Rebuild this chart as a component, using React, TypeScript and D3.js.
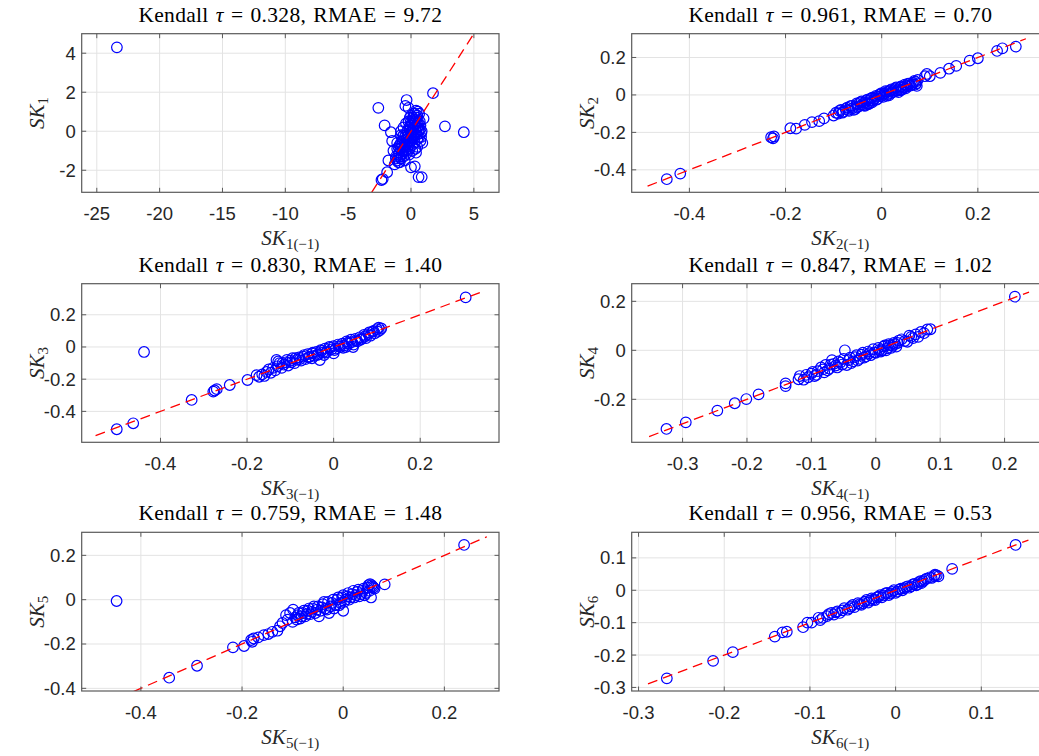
import React from "react";
import * as d3 from "d3";

const W = 1039;
const H = 756;

// ---------- data ----------
const titles = [
  ["0.328", "9.72"],
  ["0.961", "0.70"],
  ["0.830", "1.40"],
  ["0.847", "1.02"],
  ["0.759", "1.48"],
  ["0.956", "0.53"],
];

const xDomains = [
  [-26.2, 7],
  [-0.52, 0.348],
  [-0.582, 0.382],
  [-0.379, 0.269],
  [-0.517, 0.308],
  [-0.308, 0.179],
];
const yDomains = [
  [-3.13, 5],
  [-0.52, 0.327],
  [-0.592, 0.393],
  [-0.3755, 0.272],
  [-0.412, 0.304],
  [-0.311, 0.179],
];

const xTicks = [
  [-25, -20, -15, -10, -5, 0, 5],
  [-0.4, -0.2, 0, 0.2],
  [-0.4, -0.2, 0, 0.2],
  [-0.3, -0.2, -0.1, 0, 0.1, 0.2],
  [-0.4, -0.2, 0, 0.2],
  [-0.3, -0.2, -0.1, 0, 0.1],
];
const yTicks = [
  [-2, 0, 2, 4],
  [-0.4, -0.2, 0, 0.2],
  [-0.4, -0.2, 0, 0.2],
  [-0.2, 0, 0.2],
  [-0.4, -0.2, 0, 0.2],
  [-0.3, -0.2, -0.1, 0, 0.1],
];

// 45-degree reference line extents (x = y)
const refLines = [
  [-3.13, 5],
  [-0.487, 0.3],
  [-0.55, 0.35],
  [-0.352, 0.238],
  [-0.415, 0.284],
  [-0.289, 0.155],
];

const sk1 = [
  [-23.4, 4.3], [1.75, 1.95], [-2.6, 1.2], [2.7, 0.25], [4.2, -0.05], [-2.1, 0.3], [-1.9, -2.1],
  [-2.35, -2.5], [-2.25, -2.45], [0.85, -2.35], [0.6, -2.35], [-0.35, 1.6], [-0.45, 1.3], [0.4, 1.05],
  [1.0, 0.65], [0.3, -1.8], [0.0, -1.85], [-1.5, -0.5], [-1.6, -0.05], [-1.8, -1.5], [-1.3, -1.7],
  [0.75, -0.5], [0.8, -0.1], [-0.2, 1.2], [-1.0, -1.2], [-0.8, -1.4], [-0.6, -1.0], [-0.5, -0.6],
  [-0.3, -0.3], [-0.1, 0.1], [0.1, 0.4], [0.3, 0.6], [0.5, 0.8], [0.2, 0.2], [-0.2, -0.5], [-0.4, -0.2],
  [0.0, -0.1], [0.4, 0.0], [0.6, 0.3], [-0.7, -0.3], [-0.9, -0.7], [-1.1, -0.9], [-0.2, 0.5], [0.1, -0.4],
  [0.3, -0.2], [-0.6, 0.2], [0.7, 0.5], [0.5, -0.8], [-0.3, -1.1], [-1.2, -1.3], [0.2, 0.9], [-0.1, 0.7],
  [0.65, -0.3], [-0.8, 0.0], [-0.5, -1.5], [0.1, -1.0], [0.9, -0.6], [0.4, -1.1], [-1.4, -1.0], [-0.9, -1.6],
  [-1.2, -1.4], [-1.1, -1.5], [-1.0, -0.8], [-0.95, -1.1], [-0.85, -0.9], [-0.8, -0.6], [-0.75, -1.2],
  [-0.7, -0.8], [-0.65, -0.5], [-0.6, -1.3], [-0.55, -0.8], [-0.5, -0.3], [-0.45, -1.0], [-0.4, -0.7],
  [-0.35, -0.4], [-0.3, 0.0], [-0.25, -0.8], [-0.2, -0.2], [-0.15, 0.2], [-0.1, -0.6], [-0.05, 0.3],
  [0.0, 0.5], [0.05, -0.3], [0.1, 0.1], [0.15, 0.7], [0.2, -0.1], [0.25, 0.4], [0.3, 0.9], [0.35, 0.2],
  [0.4, 0.5], [0.45, 0.7], [0.5, 0.2], [0.55, 0.5], [0.6, 0.0], [0.7, 0.1], [0.75, 0.3], [0.8, -0.3],
  [0.85, 0.0], [0.5, -0.4], [0.3, -0.6], [0.1, -0.7], [-0.1, -0.9], [-0.3, -0.6], [-0.5, -0.9],
  [-0.7, -1.0], [-0.9, -1.3], [-1.0, -1.6], [0.0, 0.8], [0.2, 0.6], [-0.4, 0.4], [-0.6, -0.2],
  [0.65, 0.9], [0.45, -0.2], [-0.15, -1.2], [0.0, -0.5], [0.2, -0.3], [0.35, -0.9], [-0.8, -0.2],
  [-1.1, -0.6], [0.55, 1.0],
];

const sk2 = [
  [-0.447, -0.45], [-0.419, -0.42], [-0.23, -0.226], [-0.224, -0.222], [-0.226, -0.232], [-0.19, -0.178],
  [-0.178, -0.18], [-0.16, -0.16], [-0.145, -0.145], [-0.13, -0.14], [-0.12, -0.125], [-0.1, -0.11],
  [-0.095, -0.095], [-0.09, -0.1], [-0.085, -0.08], [-0.08, -0.09], [-0.075, -0.075], [-0.07, -0.08],
  [-0.065, -0.06], [-0.06, -0.07], [-0.055, -0.075], [-0.05, -0.05], [-0.05, -0.065], [-0.045, -0.04],
  [-0.04, -0.05], [-0.035, -0.04], [-0.03, -0.045], [-0.03, -0.025], [-0.025, -0.03], [-0.02, -0.04],
  [-0.02, -0.015], [-0.015, -0.02], [-0.01, -0.01], [-0.01, -0.025], [-0.005, 0.0], [0.0, -0.005],
  [0.0, 0.01], [0.005, 0.005], [0.01, 0.015], [0.01, -0.005], [0.015, 0.02], [0.02, 0.01], [0.02, 0.03],
  [0.025, 0.025], [0.03, 0.04], [0.03, 0.02], [0.035, 0.03], [0.04, 0.045], [0.04, 0.025], [0.045, 0.04],
  [0.05, 0.05], [0.05, 0.035], [0.055, 0.06], [0.06, 0.05], [0.065, 0.065], [0.07, 0.07], [0.07, 0.055],
  [0.073, 0.048], [0.075, 0.08], [0.09, 0.1], [0.094, 0.112], [0.1, 0.1], [0.122, 0.118], [0.14, 0.14],
  [0.155, 0.155], [0.183, 0.183], [0.2, 0.196], [0.24, 0.235], [0.251, 0.249], [0.279, 0.258],
  [-0.088, -0.085], [-0.082, -0.095], [-0.072, -0.068], [-0.068, -0.085], [-0.062, -0.058], [-0.058, -0.08],
  [-0.052, -0.045], [-0.047, -0.06], [-0.042, -0.035], [-0.038, -0.055], [-0.033, -0.03], [-0.028, -0.05],
  [-0.023, -0.02], [-0.018, -0.03], [-0.012, -0.005], [-0.008, -0.02], [-0.003, 0.005], [0.003, -0.01],
  [0.008, 0.02], [0.013, 0.005], [0.018, 0.025], [0.023, 0.015], [0.028, 0.035], [0.033, 0.025],
  [0.038, 0.04], [0.043, 0.03], [0.048, 0.055], [0.053, 0.045], [0.058, 0.06], [0.063, 0.055],
  [0.068, 0.075], [0.072, 0.062], [-0.035, -0.058], [-0.025, -0.045], [0.015, -0.002], [0.035, 0.015],
];

const sk3 = [
  [0.305, 0.308], [-0.438, -0.031], [-0.501, -0.511], [-0.463, -0.474], [-0.328, -0.329], [-0.278, -0.277],
  [-0.27, -0.262], [-0.275, -0.27], [-0.24, -0.236], [-0.199, -0.205], [-0.178, -0.175], [-0.172, -0.185],
  [-0.165, -0.17], [-0.16, -0.18], [-0.155, -0.155], [-0.15, -0.14], [-0.145, -0.16], [-0.14, -0.13],
  [-0.135, -0.145], [-0.132, -0.081], [-0.13, -0.12], [-0.125, -0.1], [-0.12, -0.13], [-0.115, -0.11],
  [-0.11, -0.095], [-0.105, -0.115], [-0.1, -0.085], [-0.095, -0.07], [-0.09, -0.1], [-0.085, -0.08],
  [-0.08, -0.065], [-0.075, -0.085], [-0.07, -0.06], [-0.065, -0.075], [-0.06, -0.045], [-0.055, -0.06],
  [-0.05, -0.04], [-0.045, -0.055], [-0.04, -0.03], [-0.035, -0.045], [-0.032, -0.081], [-0.03, -0.02],
  [-0.025, -0.035], [-0.02, -0.01], [-0.015, -0.03], [-0.01, 0.0], [-0.005, -0.015], [0.0, 0.005],
  [0.0, -0.04], [0.005, -0.01], [0.01, 0.015], [0.015, 0.0], [0.02, 0.02], [0.025, 0.01], [0.03, 0.035],
  [0.035, 0.02], [0.04, 0.045], [0.045, 0.0], [0.05, 0.05], [0.055, 0.035], [0.06, 0.06], [0.065, 0.05],
  [0.07, 0.075], [0.075, 0.055], [0.08, 0.08], [0.085, 0.07], [0.09, 0.095], [0.095, 0.085], [0.1, 0.11],
  [0.104, 0.12], [0.107, 0.105], [0.11, 0.115],
  [-0.128, -0.09], [-0.118, -0.1], [-0.108, -0.08], [-0.098, -0.095], [-0.088, -0.07], [-0.078, -0.075],
  [-0.068, -0.05], [-0.058, -0.065], [-0.048, -0.035], [-0.038, -0.05], [-0.028, -0.025], [-0.018, -0.035],
  [-0.008, -0.005], [0.002, -0.02], [0.012, 0.005], [0.022, -0.005], [0.032, 0.025], [0.042, 0.03],
  [0.052, 0.04], [0.062, 0.045], [0.072, 0.065], [0.082, 0.09], [0.092, 0.1], [0.102, 0.095],
  [-0.022, -0.05], [-0.05, -0.07], [0.028, 0.0], [0.046, 0.015],
];

const sk4 = [
  [0.216, 0.219], [-0.325, -0.321], [-0.295, -0.294], [-0.246, -0.246], [-0.219, -0.216], [-0.201, -0.199],
  [-0.182, -0.18], [-0.14, -0.135], [-0.14, -0.146], [-0.12, -0.118], [-0.118, -0.105], [-0.112, -0.12],
  [-0.105, -0.11], [-0.1, -0.095], [-0.095, -0.105], [-0.09, -0.085], [-0.085, -0.07], [-0.08, -0.09],
  [-0.078, -0.06], [-0.072, -0.075], [-0.068, -0.04], [-0.065, -0.055], [-0.06, -0.07], [-0.055, -0.05],
  [-0.05, -0.035], [-0.048, 0.0], [-0.045, -0.06], [-0.04, -0.03], [-0.035, -0.045], [-0.03, -0.02],
  [-0.025, -0.035], [-0.02, -0.01], [-0.018, -0.03], [-0.012, -0.005], [-0.008, -0.02], [-0.004, 0.005],
  [0.0, -0.01], [0.004, 0.01], [0.008, -0.005], [0.012, 0.015], [0.016, 0.0], [0.02, 0.025], [0.024, 0.01],
  [0.028, 0.03], [0.032, 0.015], [0.036, 0.04], [0.049, 0.035], [0.052, 0.06], [0.058, 0.05],
  [0.062, 0.065], [0.066, 0.055], [0.07, 0.075], [0.075, 0.07], [0.08, 0.085], [0.085, 0.086],
  [-0.108, -0.1], [-0.098, -0.088], [-0.092, -0.1], [-0.082, -0.078], [-0.075, -0.082], [-0.07, -0.058],
  [-0.062, -0.062], [-0.058, -0.045], [-0.052, -0.058], [-0.042, -0.04], [-0.038, -0.052], [-0.032, -0.028],
  [-0.028, -0.042], [-0.022, -0.018], [-0.015, -0.025], [-0.01, -0.012], [-0.002, -0.008], [0.006, 0.002],
  [0.01, 0.0], [0.014, 0.02], [0.018, 0.008], [0.022, 0.02], [0.026, 0.018], [0.03, 0.025],
  [0.034, 0.03], [0.04, 0.045], [0.045, 0.038], [0.055, 0.055],
];

const sk5 = [
  [0.239, 0.247], [-0.448, -0.006], [-0.344, -0.352], [-0.289, -0.298], [-0.218, -0.215], [-0.196, -0.209],
  [-0.182, -0.182], [-0.177, -0.175], [-0.18, -0.19], [-0.168, -0.17], [-0.157, -0.16], [-0.148, -0.155],
  [-0.14, -0.145], [-0.13, -0.14], [-0.125, -0.12], [-0.12, -0.105], [-0.113, -0.07], [-0.11, -0.09],
  [-0.105, -0.06], [-0.1, -0.1], [-0.099, -0.045], [-0.095, -0.08], [-0.09, -0.07], [-0.085, -0.085],
  [-0.08, -0.06], [-0.075, -0.075], [-0.07, -0.05], [-0.065, -0.065], [-0.06, -0.04], [-0.055, -0.06],
  [-0.05, -0.03], [-0.048, -0.075], [-0.045, -0.05], [-0.04, -0.02], [-0.035, -0.04], [-0.03, -0.01],
  [-0.028, -0.06], [-0.025, -0.03], [-0.02, 0.0], [-0.015, -0.025], [-0.01, 0.01], [-0.005, -0.015],
  [0.0, 0.02], [0.0, -0.05], [0.005, 0.0], [0.01, 0.03], [0.015, 0.01], [0.02, 0.04], [0.025, 0.02],
  [0.03, 0.045], [0.035, 0.025], [0.04, 0.05], [0.045, 0.03], [0.05, 0.065], [0.053, 0.07], [0.055, 0.01],
  [0.058, 0.06], [0.062, 0.05], [0.082, 0.069],
  [-0.092, -0.09], [-0.088, -0.06], [-0.082, -0.075], [-0.078, -0.05], [-0.072, -0.065], [-0.068, -0.04],
  [-0.062, -0.055], [-0.058, -0.03], [-0.052, -0.045], [-0.042, -0.035], [-0.038, -0.01], [-0.032, -0.045],
  [-0.022, -0.015], [-0.018, -0.04], [-0.012, 0.0], [-0.008, -0.025], [-0.002, 0.01], [0.002, -0.01],
  [0.008, 0.015], [0.012, 0.0], [0.018, 0.025], [0.022, 0.01], [0.028, 0.035], [0.032, 0.015],
  [0.038, 0.04], [0.042, 0.02], [0.048, 0.055], [0.052, 0.04], [0.056, 0.065], [0.06, 0.055],
];

const sk6 = [
  [0.14, 0.14], [0.066, 0.066], [-0.267, -0.272], [-0.213, -0.218], [-0.19, -0.191], [-0.141, -0.143],
  [-0.132, -0.13], [-0.127, -0.128], [-0.108, -0.114], [-0.103, -0.1], [-0.098, -0.1], [-0.09, -0.085],
  [-0.088, -0.092], [-0.085, -0.085], [-0.08, -0.08], [-0.075, -0.07], [-0.072, -0.075], [-0.068, -0.065],
  [-0.065, -0.07], [-0.06, -0.055], [-0.056, -0.06], [-0.052, -0.05], [-0.048, -0.052], [-0.044, -0.04],
  [-0.04, -0.045], [-0.036, -0.035], [-0.032, -0.038], [-0.028, -0.025], [-0.024, -0.03], [-0.02, -0.02],
  [-0.016, -0.022], [-0.012, -0.01], [-0.008, -0.015], [-0.004, -0.005], [0.0, -0.008], [0.004, 0.002],
  [0.008, 0.0], [0.012, 0.01], [0.016, 0.008], [0.02, 0.018], [0.024, 0.015], [0.027, 0.025],
  [0.03, 0.022], [0.034, 0.032], [0.04, 0.04], [0.045, 0.044], [0.048, 0.046], [0.05, 0.043],
  [-0.078, -0.074], [-0.07, -0.068], [-0.062, -0.062], [-0.054, -0.055], [-0.05, -0.045], [-0.042, -0.043],
  [-0.038, -0.04], [-0.034, -0.03], [-0.03, -0.032], [-0.026, -0.028], [-0.022, -0.022], [-0.018, -0.015],
  [-0.014, -0.016], [-0.01, -0.008], [-0.006, -0.01], [-0.002, 0.0], [0.002, -0.004], [0.006, 0.005],
  [0.01, 0.006], [0.014, 0.012], [0.018, 0.012], [0.022, 0.02], [0.026, 0.018], [0.029, 0.028],
  [0.032, 0.028], [0.036, 0.036], [0.042, 0.038], [0.046, 0.048],
];

const seriesData = [sk1, sk2, sk3, sk4, sk5, sk6];

// ---------- layout ----------
const colX = [
  [81.7, 499],
  [631.7, 1049],
];
const rowY = [
  [33.7, 192.3],
  [283.7, 442.3],
  [532.3, 691],
];

const AXIS_COLOR = "#262626";
const BOX_COLOR = "#5a5a5a";
const GRID_COLOR = "#e3e3e3";
const SANS = "'Liberation Sans', Arial, Helvetica, sans-serif";
const SERIF = "'Liberation Serif', 'Times New Roman', 'DejaVu Serif', serif";

const fmt = (v: number) => {
  const s = d3.format("~g")(+v.toFixed(6));
  return s.replace("−", "-");
};

function Panel({ idx }: { idx: number }) {
  const col = idx % 2;
  const row = Math.floor(idx / 2);
  const [x0, x1] = colX[col];
  const [y0, y1] = rowY[row];
  const x = d3.scaleLinear().domain(xDomains[idx]).range([x0, x1]);
  const y = d3.scaleLinear().domain(yDomains[idx]).range([y1, y0]);
  const pts = seriesData[idx];
  const [la, lb] = refLines[idx];
  const line = d3.line<number[]>().x((d) => x(d[0])).y((d) => y(d[1]));
  const refPath = line([
    [la, la],
    [lb, lb],
  ]) as string;
  const clipId = `clip-${idx}`;
  const tickLen = 4.5;
  const n = idx + 1;
  const xc = (x0 + x1) / 2;
  const yc = (y0 + y1) / 2;
  const [tau, rmae] = titles[idx];
  return (
    <g>
      <defs>
        <clipPath id={clipId}>
          <rect x={x0} y={y0} width={x1 - x0} height={y1 - y0} />
        </clipPath>
      </defs>
      <rect x={x0} y={y0} width={x1 - x0} height={y1 - y0} fill="#fff" />
      {/* grid */}
      <g stroke={GRID_COLOR} strokeWidth={1}>
        {xTicks[idx].map((t) => (
          <line key={"gx" + t} x1={x(t)} x2={x(t)} y1={y0} y2={y1} />
        ))}
        {yTicks[idx].map((t) => (
          <line key={"gy" + t} x1={x0} x2={x1} y1={y(t)} y2={y(t)} />
        ))}
      </g>
      {/* points */}
      <g clipPath={`url(#${clipId})`}>
        {pts.map((p, i) => (
          <circle key={i} cx={x(p[0])} cy={y(p[1])} r={5.3} fill="none" stroke="#0000ff" strokeWidth={1.2} />
        ))}
        <path d={refPath} fill="none" stroke="#ff0000" strokeWidth={1.3} strokeDasharray="10,6" />
      </g>
      {/* box */}
      <rect x={x0} y={y0} width={x1 - x0} height={y1 - y0} fill="none" stroke={BOX_COLOR} strokeWidth={1.2} />
      {/* ticks */}
      <g stroke={BOX_COLOR} strokeWidth={1}>
        {xTicks[idx].map((t) => (
          <g key={"tx" + t}>
            <line x1={x(t)} x2={x(t)} y1={y1} y2={y1 - tickLen} />
            <line x1={x(t)} x2={x(t)} y1={y0} y2={y0 + tickLen} />
          </g>
        ))}
        {yTicks[idx].map((t) => (
          <g key={"ty" + t}>
            <line x1={x0} x2={x0 + tickLen} y1={y(t)} y2={y(t)} />
            <line x1={x1} x2={x1 - tickLen} y1={y(t)} y2={y(t)} />
          </g>
        ))}
      </g>
      {/* tick labels */}
      <g fill={AXIS_COLOR} fontFamily={SANS} fontSize={18.5}>
        {xTicks[idx].map((t) => (
          <text key={"lx" + t} x={x(t)} y={y1 + 27.5} textAnchor="middle">
            {fmt(t)}
          </text>
        ))}
        {yTicks[idx].map((t) => (
          <text key={"ly" + t} x={x0 - 6} y={y(t)} dy="0.35em" textAnchor="end">
            {fmt(t)}
          </text>
        ))}
      </g>
      {/* title */}
      <text
        x={xc}
        y={y0 - 12}
        textAnchor="middle"
        fontFamily={SERIF}
        fontSize={21.5}
        letterSpacing={0.3}
        wordSpacing={1.5}
        fill="#000"
      >
        <tspan>Kendall </tspan>
        <tspan fontStyle="italic">τ</tspan>
        <tspan>{` = ${tau}, RMAE = ${rmae}`}</tspan>
      </text>
      {/* x label */}
      <text x={xc} y={y1 + 52.5} textAnchor="middle" fontFamily={SERIF} fontSize={21} fill={AXIS_COLOR}>
        <tspan fontStyle="italic">SK</tspan>
        <tspan fontSize={15} dy={4}>{`${n}(−1)`}</tspan>
      </text>
      {/* y label */}
      <text
        transform={`translate(${x0 - 38},${yc}) rotate(-90)`}
        textAnchor="middle"
        fontFamily={SERIF}
        fontSize={21}
        fill={AXIS_COLOR}
      >
        <tspan fontStyle="italic">SK</tspan>
        <tspan fontSize={15} dy={4}>{`${n}`}</tspan>
      </text>
    </g>
  );
}

export default function App() {
  return (
    <svg
      width={W}
      height={H}
      viewBox={`0 0 ${W} ${H}`}
      style={{ position: "absolute", left: 0, top: 0, background: "#fff", overflow: "hidden" }}
    >
      <rect x={0} y={0} width={W} height={H} fill="#fff" />
      {titles.map((_, i) => (
        <Panel key={i} idx={i} />
      ))}
    </svg>
  );
}
